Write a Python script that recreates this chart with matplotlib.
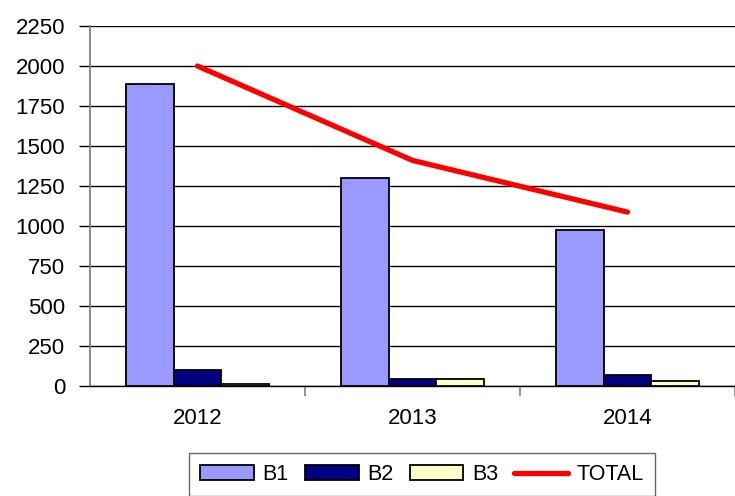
import matplotlib
matplotlib.use("Agg")
import matplotlib.pyplot as plt
import numpy as np

plt.rcParams['font.family'] = ['Liberation Sans', 'DejaVu Sans']

years = ["2012", "2013", "2014"]
b1 = [1885, 1297, 975]
b2 = [100, 43, 69]
b3 = [14, 43, 31]
total = [2000, 1410, 1087]
y_ticks = [0, 250, 500, 750, 1000, 1250, 1500, 1750, 2000, 2250]

fig = plt.figure(figsize=(7.35, 4.96), dpi=100)
ax = fig.add_axes([90/735, 1 - 386/496, 645/735, 360/496])

x = np.arange(len(years))
w = 1 / 4.5
series = [(b1, "#9999FF", "B1"), (b2, "#000080", "B2"), (b3, "#FFFFCC", "B3")]
handles = []
for i, (vals, col, lab) in enumerate(series):
    h = ax.bar(x + (i - 1) * w, vals, width=w, color=col, edgecolor="black",
               linewidth=1.3, label=lab, zorder=3)
    handles.append(h)
ln, = ax.plot(x, total, color="#FF0000", linewidth=3.8, solid_capstyle="round",
              solid_joinstyle="round", label="TOTAL", zorder=4)
handles.append(ln)

ax.set_xlim(-0.5, 2.5)
ax.set_ylim(0, 2250)
ax.set_yticks(y_ticks)
ax.set_yticklabels([str(v) for v in y_ticks], fontsize=16)
ax.yaxis.grid(True, color="black", linewidth=1.0, zorder=0)
ax.set_axisbelow(True)

ax.set_xticks(x)
ax.set_xticklabels(years, fontsize=16)
ax.tick_params(axis="x", length=0, pad=16)
ax.set_xticks([0.5, 1.5, 2.5], minor=True)
ax.tick_params(axis="x", which="minor", length=7, color="#808080", width=1.2)
ax.tick_params(axis="y", length=8, width=1.0, color="black", pad=10)

for s in ["top", "right"]:
    ax.spines[s].set_visible(False)
ax.spines["left"].set_color("#808080")
ax.spines["left"].set_linewidth(1.3)
ax.spines["bottom"].set_color("black")
ax.spines["bottom"].set_linewidth(1.0)

leg = fig.legend(handles=handles, labels=["B1", "B2", "B3", "TOTAL"],
                 loc="lower center", bbox_to_anchor=(422/735, 0.0), ncol=4,
                 fontsize=15.5, frameon=True, fancybox=False, edgecolor="#404040",
                 handlelength=2.5, handleheight=0.7, handletextpad=0.4,
                 columnspacing=0.75, borderpad=0.5, borderaxespad=0.0)
leg.get_frame().set_linewidth(1.0)

fig.savefig("out.png", dpi=100, facecolor="white")
